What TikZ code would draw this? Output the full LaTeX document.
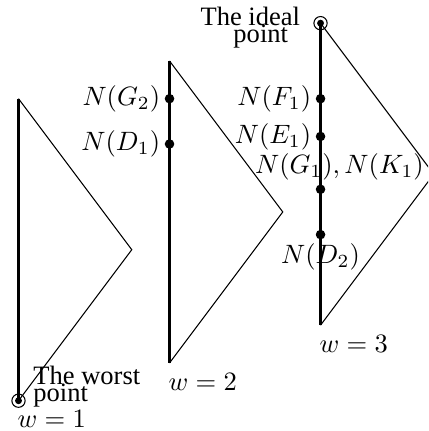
\documentclass[tikz,border=0pt]{standalone}
\usepackage{fontspec}
\setmainfont{Liberation Serif}
\usetikzlibrary{calc}
\begin{document}
\begin{tikzpicture}[
  edge/.style={line width=0.4pt},
  axisline/.style={line width=0.85pt},
  dot/.style={circle, fill=black, inner sep=0pt, minimum size=3.6pt},
  ring/.style={circle, draw=black, line width=0.4pt, inner sep=0pt, minimum size=5pt},
  core/.style={circle, fill=black, inner sep=0pt, minimum size=2.6pt},
  txt/.style={inner sep=0pt, anchor=base west},
  wlabel/.style={inner sep=0pt, anchor=base},
]
\clip (-0.245,-0.401) rectangle (5.424,5.307);
% triangle w=1
\coordinate (b1) at (0,0);
\coordinate (a1) at (1.5,2);
\coordinate (t1) at (0,4);
\draw[edge] (b1) -- (a1) -- (t1);
\draw[axisline] (b1) -- (t1);
% triangle w=2
\coordinate (b2) at (2,0.5);
\coordinate (a2) at (3.5,2.5);
\coordinate (t2) at (2,4.5);
\draw[edge] (b2) -- (a2) -- (t2);
\draw[axisline] (b2) -- (t2);
% triangle w=3
\coordinate (b3) at (4,1);
\coordinate (a3) at (5.5,3);
\coordinate (t3) at (4,5);
\draw[edge] (b3) -- (a3) -- (t3);
\draw[axisline] (b3) -- (t3);

% worst point
\node[ring] (worst) at (b1) {};
\node[core] (worstc) at (b1) {};
\node[txt] (worst1) at (0.19,0.215) {The worst};
\node[txt] (worst2) at (0.19,-0.01) {point};
% ideal point
\node[ring] (ideal) at (t3) {};
\node[core] (idealc) at (t3) {};
\node[txt] (ideal1) at (2.404,4.97) {The ideal};
\node[txt] (ideal2) at (2.84,4.745) {point};

% dots w=2
\node[dot] (g2) at (2,4.0) {};
\node[dot] (d1) at (2,3.4) {};
\node[left] (lg2) at (g2) {$N(G_2)$};
\node[left] (ld1) at (d1) {$N(D_1)$};

% dots w=3
\node[dot] (f1) at (4,4.0) {};
\node[dot] (e1) at (4,3.5) {};
\node[dot] (gk1) at (4,2.8) {};
\node[dot] (d2) at (4,2.2) {};
\node[left] (lf1) at (f1) {$N(F_1)$};
\node[left] (le1) at (e1) {$N(E_1)$};
\node[above, xshift=0.25cm] (lgk1) at (gk1) {$N(G_1), N(K_1)$};
\node[below] (ld2) at (d2) {$N(D_2)$};

% weights
\node[wlabel] (w1) at ($(b1)+(0.44,-0.36)$) {$w=1$};
\node[wlabel] (w2) at ($(b2)+(0.44,-0.36)$) {$w=2$};
\node[wlabel] (w3) at ($(b3)+(0.44,-0.36)$) {$w=3$};
\end{tikzpicture}
\end{document}
